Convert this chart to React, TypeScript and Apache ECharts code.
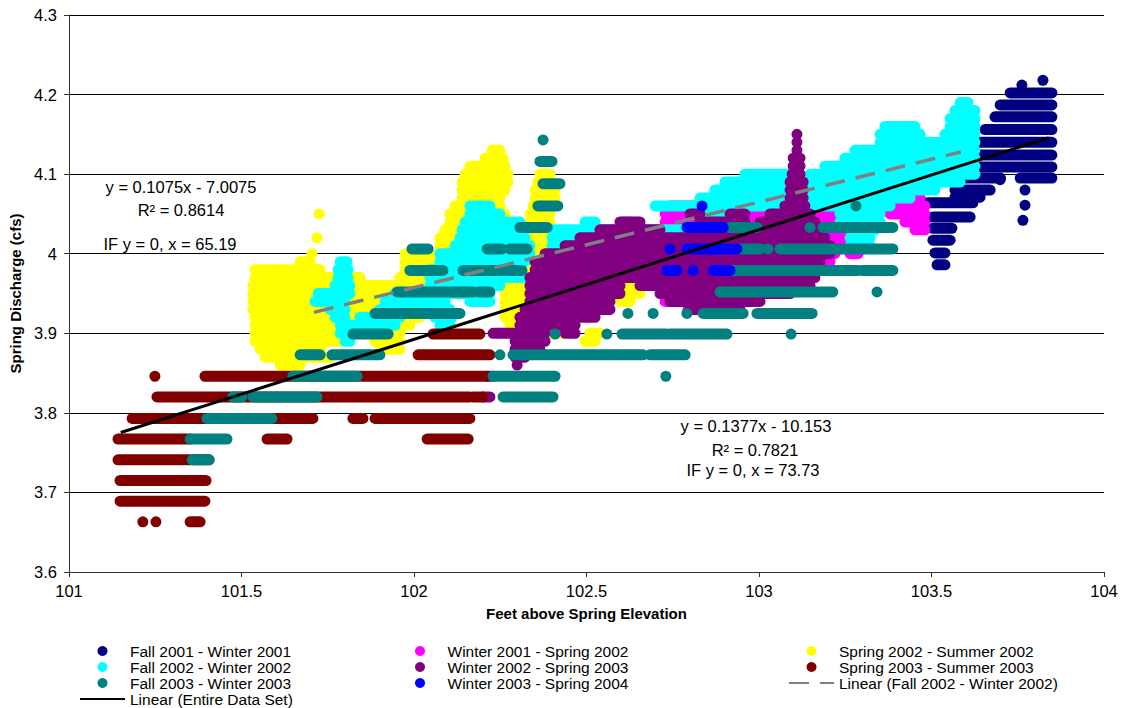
import React, { useEffect, useRef } from "react";
import * as echarts from "echarts";

// Spring discharge (cfs) versus feet above spring elevation.
// Each reading run is [discharge, feetFrom, feetTo]; a single reading is [discharge, feet].
const fall2001Winter2001 = [
  [4.218, 103.823], [4.212, 103.762],
  [4.202, 103.728, 103.849], [4.187, 103.699, 103.849], [4.172, 103.684, 103.849],
  [4.156, 103.655, 103.849], [4.140, 103.641, 103.849], [4.124, 103.626, 103.849],
  [4.109, 103.597, 103.849], [4.095, 103.577, 103.700], [4.095, 103.757, 103.849],
  [4.093, 103.699], [4.080, 103.568, 103.670], [4.080, 103.771], [4.071, 103.568, 103.641],
  [4.064, 103.487, 103.620], [4.061, 103.771], [4.046, 103.504, 103.612], [4.042, 103.765],
  [4.032, 103.504, 103.559], [4.017, 103.504, 103.554], [4.001, 103.510, 103.539],
  [3.986, 103.516, 103.539],
];

const winter2001Spring2002 = [
  [4.08, 103.380, 103.452],
  [4.07, 102.959, 103.119], [4.07, 103.351, 103.467],
  [4.06, 102.742, 102.829], [4.06, 102.959, 103.206], [4.06, 103.351, 103.481],
  [4.05, 102.728, 102.829], [4.05, 102.945, 103.235], [4.05, 103.380, 103.481],
  [4.04, 102.728, 102.800], [4.04, 102.945, 103.249], [4.04, 103.423, 103.481],
  [4.03, 102.945, 103.249], [4.03, 103.452, 103.481],
  [4.02, 102.930, 103.249], [4.01, 102.930, 103.235],
  [4.00, 102.655, 102.699], [4.00, 102.930, 103.220], [4.00, 103.264, 103.287],
  [3.99, 102.655, 102.699], [3.99, 102.930, 103.206],
  [3.98, 102.655, 102.699], [3.98, 102.916, 103.191],
  [3.97, 102.670, 102.699], [3.97, 102.916, 103.003], [3.97, 103.119, 103.148],
  [3.96, 102.916, 102.959], [3.95, 102.916, 102.945],
  [3.94, 102.728, 102.742], [3.94, 102.901, 102.930], [3.93, 102.794, 102.814],
];

const spring2002Summer2002 = [
  [4.13, 102.226, 102.249], [4.12, 102.206, 102.258], [4.11, 102.162, 102.264],
  [4.10, 102.148, 102.272], [4.10, 102.365, 102.394],
  [4.09, 102.139, 102.272], [4.09, 102.359, 102.400],
  [4.08, 102.139, 102.264], [4.08, 102.351, 102.409],
  [4.07, 102.139, 102.249], [4.07, 102.351, 102.409],
  [4.06, 102.119, 102.249], [4.06, 102.345, 102.403],
  [4.05, 101.725], [4.05, 102.104, 102.264], [4.05, 102.336, 102.394],
  [4.04, 102.104, 102.264], [4.04, 102.336, 102.394],
  [4.03, 102.090, 102.264], [4.03, 102.336, 102.394],
  [4.02, 101.719], [4.02, 102.075, 102.264], [4.02, 102.336, 102.394],
  [4.01, 102.075, 102.264], [4.01, 102.336, 102.394],
  [4.00, 101.704], [4.00, 101.974, 102.046], [4.00, 102.075, 102.264], [4.00, 102.322, 102.394],
  [3.99, 101.670, 101.699], [3.99, 101.974, 102.162], [3.99, 102.307, 102.394], [3.99, 102.539, 102.568],
  [3.98, 101.539, 101.728], [3.98, 101.974, 102.075], [3.98, 102.249, 102.394], [3.98, 102.539, 102.655],
  [3.97, 101.539, 101.771], [3.97, 101.800, 101.843], [3.97, 101.959, 102.075], [3.97, 102.249, 102.380], [3.97, 102.539, 102.655],
  [3.96, 101.533, 101.786], [3.96, 101.843, 102.075], [3.96, 102.249, 102.322], [3.96, 102.568, 102.655],
  [3.95, 101.533, 101.800], [3.95, 101.814, 102.075], [3.95, 102.264, 102.336], [3.95, 102.583, 102.655],
  [3.94, 101.533, 101.800], [3.94, 101.814, 102.075], [3.94, 102.264, 102.336], [3.94, 102.597, 102.626],
  [3.93, 101.533, 101.814], [3.93, 101.829, 102.061], [3.93, 102.264, 102.336],
  [3.92, 101.539, 101.814], [3.92, 101.843, 102.017], [3.92, 102.264, 102.336], [3.92, 102.394, 102.423],
  [3.91, 101.539, 101.800], [3.91, 101.843, 101.988], [3.91, 102.278, 102.307], [3.91, 102.394, 102.423],
  [3.90, 101.539, 101.800], [3.90, 101.872, 101.959], [3.90, 102.394, 102.423], [3.90, 102.510, 102.539],
  [3.89, 101.539, 101.786], [3.89, 101.887, 101.959], [3.89, 102.496, 102.525],
  [3.88, 101.554, 101.728], [3.88, 101.901, 101.959],
  [3.87, 101.568, 101.757], [3.86, 101.612, 101.670],
];

const fall2002Winter2002 = [
  [3.99, 101.786, 101.806], [3.98, 101.780, 101.809], [3.97, 101.780, 101.809],
  [3.96, 101.771, 101.814], [3.95, 101.722, 101.814], [3.95, 101.945, 101.959],
  [3.94, 101.713, 101.800], [3.94, 101.916, 102.032],
  [3.93, 101.757, 101.800], [3.93, 101.901, 102.046],
  [3.92, 101.771, 101.800], [3.92, 101.843, 101.959],
  [3.91, 101.786, 101.814], [3.91, 101.829, 101.945],
  [3.90, 101.786, 101.814], [3.90, 101.843, 101.901], [3.89, 101.800, 101.814],
  [4.06, 102.162, 102.220], [4.05, 102.162, 102.249], [4.04, 102.148, 102.307],
  [4.03, 102.139, 102.322], [4.02, 102.133, 102.322], [4.01, 102.119, 102.336],
  [4.00, 102.075, 102.336], [3.99, 102.075, 102.322], [3.98, 102.046, 102.307],
  [3.97, 102.046, 102.322], [3.96, 102.046, 102.249], [3.95, 102.046, 102.220],
  [3.94, 102.046, 102.090], [3.94, 102.162, 102.220],
  [3.93, 102.061, 102.104], [3.92, 102.061, 102.110], [3.91, 102.075, 102.104],
  [4.04, 102.496, 102.525], [4.04, 102.603, 102.632],
  [4.03, 102.400, 102.713], [4.02, 102.400, 102.699], [4.01, 102.400, 102.655],
  [4.19, 103.583, 103.606], [4.18, 103.568, 103.626], [4.17, 103.554, 103.626],
  [4.16, 103.365, 103.452], [4.16, 103.554, 103.626],
  [4.15, 103.351, 103.467], [4.15, 103.539, 103.626],
  [4.14, 103.351, 103.626], [4.13, 103.278, 103.626], [4.12, 103.249, 103.626],
  [4.11, 103.191, 103.626], [4.10, 102.959, 103.090], [4.10, 103.148, 103.626],
  [4.09, 102.901, 103.583], [4.08, 102.872, 103.510], [4.07, 102.829, 103.438],
  [4.06, 102.699, 103.380],
  [4.05, 102.843, 102.945], [4.05, 103.235, 103.351],
  [4.04, 102.843, 102.916], [4.04, 103.235, 103.351],
  [4.03, 102.699, 102.887], [4.03, 103.264, 103.336],
  [4.02, 102.699, 102.872], [4.02, 103.264, 103.322],
  [4.01, 102.713, 102.800], [4.01, 103.264, 103.322],
];

const winter2002Spring2003 = [
  [4.15, 103.110], [4.14, 103.110], [4.13, 103.110],
  [4.12, 103.099, 103.119], [4.11, 103.099, 103.119], [4.10, 103.096, 103.119],
  [4.09, 103.090, 103.128], [4.08, 103.090, 103.128], [4.07, 103.090, 103.128],
  [4.06, 103.075, 103.133],
  [4.05, 102.800, 102.829], [4.05, 102.916, 102.959], [4.05, 103.032, 103.148],
  [4.04, 102.597, 102.655], [4.04, 102.829, 102.959], [4.04, 103.003, 103.162],
  [4.03, 102.539, 102.713], [4.03, 102.800, 102.959], [4.03, 102.988, 103.177],
  [4.02, 102.481, 102.959], [4.02, 102.988, 103.191],
  [4.01, 102.438, 103.206], [4.00, 102.380, 103.206], [3.99, 102.351, 103.177],
  [3.98, 102.351, 103.162], [3.97, 102.336, 103.162],
  [3.96, 102.336, 102.597], [3.96, 102.655, 103.148],
  [3.95, 102.336, 102.597], [3.95, 102.713, 103.090],
  [3.94, 102.336, 102.568], [3.94, 102.742, 103.003],
  [3.93, 102.322, 102.568], [3.93, 102.800, 102.945],
  [3.92, 102.307, 102.525], [3.91, 102.307, 102.467],
  [3.90, 102.229, 102.380], [3.90, 102.438, 102.467],
  [3.89, 102.293, 102.380], [3.88, 102.293, 102.365], [3.87, 102.293, 102.322],
  [3.86, 102.299], [3.846, 102.212, 102.229], [3.820, 102.200, 102.220],
];

const spring2003Summer2003 = [
  [3.663, 101.214], [3.663, 101.252], [3.663, 101.351, 101.380],
  [3.689, 101.148, 101.394], [3.715, 101.148, 101.397], [3.741, 101.142, 101.406],
  [3.767, 101.142, 101.351], [3.767, 101.574, 101.632], [3.767, 102.038, 102.157],
  [3.793, 101.183, 101.707], [3.793, 101.823, 101.852], [3.793, 101.887, 102.162],
  [3.820, 101.255, 102.162], [3.820, 102.171, 102.200],
  [3.846, 101.249], [3.846, 101.394, 102.212],
  [3.873, 102.012, 102.220], [3.899, 102.055, 102.191], [3.925, 102.075, 102.119],
];

const fall2003Winter2003 = [
  [3.741, 101.357, 101.406], [3.767, 101.351, 101.458], [3.793, 101.400, 101.588],
  [3.820, 101.475, 101.501], [3.820, 101.533, 101.719], [3.820, 102.258, 102.403],
  [3.846, 101.649, 101.835], [3.846, 102.229, 102.409], [3.846, 102.730],
  [3.873, 101.670, 101.728], [3.873, 101.762, 101.901], [3.873, 102.249],
  [3.873, 102.287, 102.664], [3.873, 102.684, 102.786],
  [3.899, 101.823, 101.925], [3.899, 102.409], [3.899, 102.559],
  [3.899, 102.603, 102.733], [3.899, 102.742, 102.907], [3.899, 103.093],
  [3.925, 101.887, 102.133], [3.925, 102.620], [3.925, 102.693], [3.925, 102.791],
  [3.925, 102.838, 102.954], [3.925, 102.994, 103.154],
  [3.952, 101.951, 102.171], [3.952, 102.186, 102.220], [3.952, 102.887, 103.214], [3.952, 103.342],
  [3.979, 101.988, 102.084], [3.979, 102.142, 102.313], [3.979, 102.916, 103.287], [3.979, 103.299, 103.388],
  [4.006, 101.994, 102.041], [4.006, 102.212, 102.255], [4.006, 102.278, 102.328],
  [4.006, 102.945, 103.003], [4.006, 103.026], [4.006, 103.061, 103.388],
  [4.033, 102.307, 102.386], [4.033, 102.916, 102.994], [4.033, 103.148], [4.033, 103.186, 103.388],
  [4.060, 102.359, 102.417], [4.060, 103.281],
  [4.088, 102.374, 102.423], [4.116, 102.365, 102.400], [4.143, 102.374],
];

const winter2003Spring2004 = [
  [4.060, 102.835], [4.033, 102.791, 102.896],
  [4.006, 102.742], [4.006, 102.791, 102.936],
  [3.979, 102.733, 102.762], [3.979, 102.809], [3.979, 102.867, 102.916],
];

// Least-squares fits as stated on the chart: [slope, intercept, fromFeet, toFeet]
const fitEntire = [0.1377, -10.153, 101.15, 103.84];
const fitFall2002 = [0.1075, -7.0075, 101.71, 103.585];

const xTicks = { min: 101, max: 104, interval: 0.5 };
const yTicks = { min: 3.6, max: 4.3, interval: 0.1 };

const periods = [
  { name: "Fall 2001 - Winter 2001", color: "#000080", runs: fall2001Winter2001 },
  { name: "Winter 2001 - Spring 2002", color: "#FF00FF", runs: winter2001Spring2002 },
  { name: "Spring 2002 - Summer 2002", color: "#FFFF00", runs: spring2002Summer2002 },
  { name: "Fall 2002 - Winter 2002", color: "#00FFFF", runs: fall2002Winter2002 },
  { name: "Winter 2002 - Spring 2003", color: "#800080", runs: winter2002Spring2003 },
  { name: "Spring 2003 - Summer 2003", color: "#800000", runs: spring2003Summer2003 },
  { name: "Fall 2003 - Winter 2003", color: "#008080", runs: fall2003Winter2003 },
  { name: "Winter 2003 - Spring 2004", color: "#0000FF", runs: winter2003Spring2004 },
];

const FONT = 'Arial, "Liberation Sans", Helvetica, sans-serif';
const DOT_R = 5.5;

function runRenderer(color: string) {
  return (_params: any, api: any) => {
    const y = api.value(0);
    const a = api.coord([api.value(1), y]);
    const b = api.coord([api.value(2), y]);
    return {
      type: "rect",
      shape: {
        x: a[0] - DOT_R,
        y: a[1] - DOT_R,
        width: b[0] - a[0] + 2 * DOT_R,
        height: 2 * DOT_R,
        r: DOT_R,
      },
      style: { fill: color },
    };
  };
}

function fitLine(fit: number[]) {
  const [m, b, x0, x1] = fit;
  return [
    [x0, m * x0 + b],
    [x1, m * x1 + b],
  ];
}

export default function App() {
  const ref = useRef<HTMLDivElement>(null);

  useEffect(() => {
    if (!ref.current) return;
    const chart = echarts.init(ref.current, null, { renderer: "svg" });

    const scatterSeries = periods.map((p) => ({
      name: p.name,
      type: "custom",
      itemStyle: { color: p.color },
      encode: { x: [1, 2], y: 0 },
      data: p.runs.map((r) => (r.length === 2 ? [r[0], r[1], r[1]] : r)),
      renderItem: runRenderer(p.color),
      silent: true,
    }));

    const legendBase = {
      orient: "vertical",
      top: 643,
      itemWidth: 45,
      itemHeight: 10,
      itemGap: 0,
      padding: 0,
      selectedMode: false,
      textStyle: { fontFamily: FONT, fontSize: 15.5, color: "#000", lineHeight: 16 },
    };
    const dot = (name: string) => ({ name, icon: "circle" });
    // trend-line entries show only their stroke, no marker
    const lineOnly = (name: string) => ({ name, itemStyle: { opacity: 0 } });

    chart.setOption({
      animation: false,
      backgroundColor: "#fff",
      textStyle: { fontFamily: FONT },
      grid: { left: 69, top: 15, width: 1035, height: 557, containLabel: false },
      xAxis: {
        type: "value",
        min: xTicks.min,
        max: xTicks.max,
        interval: xTicks.interval,
        name: "Feet above Spring Elevation",
        nameLocation: "middle",
        nameGap: 34,
        nameTextStyle: { fontFamily: FONT, fontWeight: "bold", fontSize: 15, color: "#000" },
        axisLine: { lineStyle: { color: "#333", width: 1 } },
        axisTick: { show: true, inside: false, length: 5, lineStyle: { color: "#333" } },
        axisLabel: { margin: 10, fontSize: 16.5, color: "#000", fontFamily: FONT },
        splitLine: { show: false },
      },
      yAxis: {
        type: "value",
        min: yTicks.min,
        max: yTicks.max,
        interval: yTicks.interval,
        name: "Spring Discharge (cfs)",
        nameLocation: "middle",
        nameGap: 44,
        nameTextStyle: { fontFamily: FONT, fontWeight: "bold", fontSize: 15, color: "#000" },
        axisLine: { show: true, lineStyle: { color: "#333", width: 1 } },
        axisTick: { show: true, inside: false, length: 5, lineStyle: { color: "#333" } },
        axisLabel: { margin: 12, fontSize: 16.5, color: "#000", fontFamily: FONT },
        splitLine: { show: true, lineStyle: { color: "#000", width: 1 } },
      },
      legend: [
        {
          ...legendBase,
          left: 79,
          data: [
            dot("Fall 2001 - Winter 2001"),
            dot("Fall 2002 - Winter 2002"),
            dot("Fall 2003 - Winter 2003"),
            lineOnly("Linear (Entire Data Set)"),
          ],
        },
        {
          ...legendBase,
          left: 415,
          data: [
            dot("Winter 2001 - Spring 2002"),
            dot("Winter 2002 - Spring 2003"),
            dot("Winter 2003 - Spring 2004"),
          ],
        },
        {
          ...legendBase,
          left: 788,
          data: [
            dot("Spring 2002 - Summer 2002"),
            dot("Spring 2003 - Summer 2003"),
            lineOnly("Linear (Fall 2002 - Winter 2002)"),
          ],
        },
      ],
      graphic: [
        ...[
          { t: "y = 0.1075x - 7.0075", x: 181, y: 187 },
          { t: "R\u00B2 = 0.8614", x: 181, y: 210 },
          { t: "IF y = 0, x = 65.19", x: 170, y: 244 },
          { t: "y = 0.1377x - 10.153", x: 756, y: 426 },
          { t: "R\u00B2 = 0.7821", x: 755, y: 450 },
          { t: "IF y = 0, x = 73.73", x: 753, y: 470 },
        ].map((g) => ({
          type: "text",
          x: g.x,
          y: g.y,
          z: 100,
          style: {
            text: g.t,
            fill: "#000",
            fontSize: 16.5,
            fontFamily: FONT,
            align: "center",
            verticalAlign: "middle",
            textAlign: "center",
            textVerticalAlign: "middle",
          },
        })),
      ],
      series: [
        ...scatterSeries,
        {
          name: "Linear (Fall 2002 - Winter 2002)",
          type: "line",
          symbol: "none",
          data: fitLine(fitFall2002),
          lineStyle: { color: "#808080", width: 3.5, type: [20, 11] },
          itemStyle: { color: "#808080" },
          z: 5,
          silent: true,
        },
        {
          name: "Linear (Entire Data Set)",
          type: "line",
          symbol: "none",
          data: fitLine(fitEntire),
          lineStyle: { color: "#000", width: 3 },
          itemStyle: { color: "#000" },
          z: 6,
          silent: true,
        },
      ],
    });

    return () => chart.dispose();
  }, []);

  return (
    <div
      ref={ref}
      style={{ position: "absolute", left: 0, top: 0, width: 1123, height: 708, background: "#fff" }}
    />
  );
}
